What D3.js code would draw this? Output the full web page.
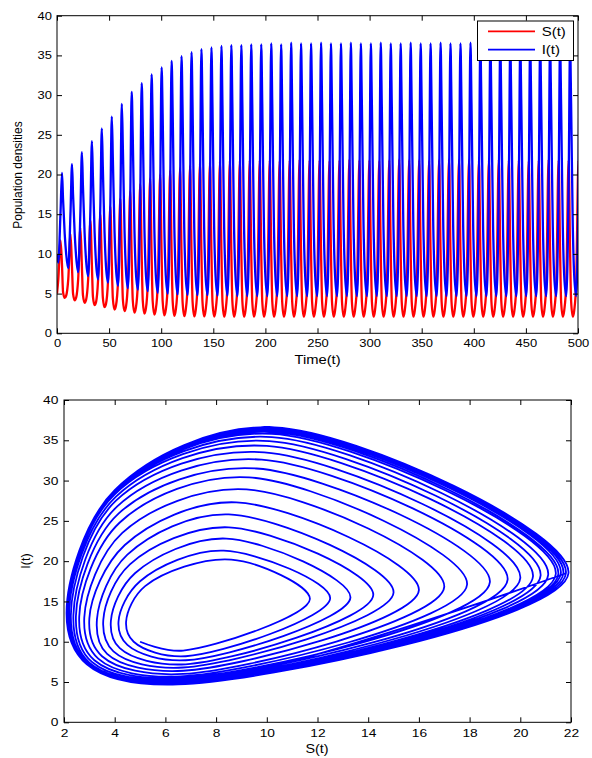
<!DOCTYPE html>
<html lang="en">
<head>
<meta charset="utf-8">
<title>S(t), I(t) and phase portrait</title>
<script src="https://cdn.jsdelivr.net/npm/d3@7"></script>
<style>
body{margin:0;background:#fff;font-family:"Liberation Sans",Arial,Helvetica,sans-serif;}
</style>
</head>
<body>
<div id="chart"></div>
<script>
// values, one entry per oscillation (cycle k)
// time of each I(t) peak
var tPeak = [4.8, 14.4, 23.9, 33.5, 43.0, 52.6, 62.2, 71.7, 81.3, 90.8,
  100.4, 110.0, 119.5, 129.1, 138.6, 148.2, 157.8, 167.3, 176.9, 186.4,
  196.0, 205.6, 215.1, 224.7, 234.2, 243.8, 253.4, 262.9, 272.5, 282.0,
  291.6, 301.2, 310.7, 320.3, 329.8, 339.4, 349.0, 358.5, 368.1, 377.6,
  387.2, 396.8, 406.3, 415.9, 425.4, 435.0, 444.6, 454.1, 463.7, 473.2,
  482.8, 492.4, 501.9]
// lag of I min, S max, I max, upper-left, S min, lower-left, relative to the I peak
var lag = [-3.6, -1.4, 0, 1.0, 2.6, 4.0]

// I min (before the peak of cycle k) and S at that moment
var iLow = [8.9, 8.2, 7.7, 7.2, 6.8, 6.4, 6.0, 5.7, 5.5, 5.3,
  5.1, 5.0, 4.9, 4.85, 4.8, 4.8, 4.75, 4.75, 4.7, 4.7,
  4.7, 4.7, 4.7, 4.7, 4.7, 4.7, 4.7, 4.7, 4.7, 4.7,
  4.7, 4.7, 4.7, 4.7, 4.7, 4.7, 4.7, 4.7, 4.7, 4.7,
  4.7, 4.7, 4.7, 4.7, 4.7, 4.7, 4.7, 4.7, 4.7, 4.7,
  4.7, 4.7, 4.7]
var sAtILow = [6.7, 6.8, 6.8, 6.8, 6.7, 6.7, 6.7, 6.6, 6.6, 6.6,
  6.5, 6.5, 6.5, 6.5, 6.5, 6.5, 6.5, 6.5, 6.5, 6.5,
  6.5, 6.5, 6.5, 6.5, 6.5, 6.5, 6.5, 6.5, 6.5, 6.5,
  6.5, 6.5, 6.5, 6.5, 6.5, 6.5, 6.5, 6.5, 6.5, 6.5,
  6.5, 6.5, 6.5, 6.5, 6.5, 6.5, 6.5, 6.5, 6.5, 6.5,
  6.5, 6.5, 6.5]

// S max (before the peak of cycle k) and I at that moment
var sPeak = [11.7, 12.5, 13.3, 14.2, 15.0, 16.0, 17.0, 17.9, 18.8, 19.5,
  20.0, 20.5, 20.8, 21.1, 21.4, 21.5, 21.6, 21.7, 21.7, 21.8,
  21.8, 21.8, 21.7, 21.8, 21.9, 21.8, 21.8, 21.7, 21.8, 21.9,
  21.8, 21.8, 21.7, 21.8, 21.9, 21.8, 21.8, 21.7, 21.8, 21.9,
  21.8, 21.8, 21.7, 21.8, 21.9, 21.8, 21.8, 21.7, 21.8, 21.9,
  21.8, 21.8, 21.8]
var iAtSPeak = [15.3, 15.4, 15.5, 15.8, 16.1, 16.4, 16.8, 17.1, 17.4, 17.7,
  17.9, 18.1, 18.2, 18.3, 18.4, 18.4, 18.5, 18.5, 18.5, 18.5,
  18.5, 18.5, 18.5, 18.5, 18.5, 18.5, 18.5, 18.5, 18.5, 18.5,
  18.5, 18.5, 18.5, 18.5, 18.5, 18.5, 18.5, 18.5, 18.5, 18.5,
  18.5, 18.5, 18.5, 18.5, 18.5, 18.5, 18.5, 18.5, 18.5, 18.5,
  18.5, 18.5, 18.5]

// I max and S at that moment
var iPeak = [20.2, 21.3, 22.8, 24.2, 25.8, 27.3, 28.9, 30.4, 31.5, 32.6,
  33.5, 34.3, 34.9, 35.4, 35.8, 36.0, 36.2, 36.3, 36.3, 36.4,
  36.4, 36.5, 36.4, 36.6, 36.5, 36.5, 36.6, 36.5, 36.5, 36.6,
  36.5, 36.5, 36.6, 36.5, 36.5, 36.6, 36.5, 36.5, 36.6, 36.5,
  36.5, 36.6, 36.5, 36.5, 36.6, 36.5, 36.5, 36.6, 36.5, 36.5,
  36.6, 36.5, 36.5]
var sAtIPeak = [8.6, 8.3, 8.4, 8.5, 8.5, 8.8, 9.2, 9.3, 9.6, 9.8,
  9.9, 10.0, 10.1, 10.2, 10.2, 10.3, 10.3, 10.3, 10.3, 10.3,
  10.3, 10.3, 10.3, 10.3, 10.3, 10.3, 10.3, 10.3, 10.3, 10.3,
  10.3, 10.3, 10.3, 10.3, 10.3, 10.3, 10.3, 10.3, 10.3, 10.3,
  10.3, 10.3, 10.3, 10.3, 10.3, 10.3, 10.3, 10.3, 10.3, 10.3,
  10.3, 10.3, 10.3]

// upper-left shoulder of each loop (I falling, S falling)
var sUL = [5.2, 5.0, 4.8, 4.6, 4.5, 4.4, 4.3, 4.2, 4.15, 4.1,
  4.05, 4.05, 4.0, 4.0, 4.0, 4.0, 4.0, 4.0, 4.0, 4.0,
  4.0, 4.0, 4.0, 4.0, 4.0, 4.0, 4.0, 4.0, 4.0, 4.0,
  4.0, 4.0, 4.0, 4.0, 4.0, 4.0, 4.0, 4.0, 4.0, 4.0,
  4.0, 4.0, 4.0, 4.0, 4.0, 4.0, 4.0, 4.0, 4.0, 4.0,
  4.0, 4.0, 4.0]
var iUL = [16.9, 17.5, 18.5, 19.6, 20.8, 22.0, 23.5, 24.8, 25.9, 26.8,
  27.5, 28.0, 28.3, 28.5, 28.6, 28.7, 28.7, 28.8, 28.8, 28.8,
  28.8, 28.8, 28.8, 28.8, 28.8, 28.8, 28.8, 28.8, 28.8, 28.8,
  28.8, 28.8, 28.8, 28.8, 28.8, 28.8, 28.8, 28.8, 28.8, 28.8,
  28.8, 28.8, 28.8, 28.8, 28.8, 28.8, 28.8, 28.8, 28.8, 28.8,
  28.8, 28.8, 28.8]

// S min and I at that moment
var sLow = [4.45, 4.15, 3.85, 3.55, 3.3, 3.0, 2.8, 2.6, 2.47, 2.37,
  2.27, 2.2, 2.16, 2.13, 2.12, 2.11, 2.1, 2.1, 2.1, 2.1,
  2.1, 2.1, 2.1, 2.1, 2.1, 2.1, 2.1, 2.1, 2.1, 2.1,
  2.1, 2.1, 2.1, 2.1, 2.1, 2.1, 2.1, 2.1, 2.1, 2.1,
  2.1, 2.1, 2.1, 2.1, 2.1, 2.1, 2.1, 2.1, 2.1, 2.1,
  2.1, 2.1, 2.1]
var iAtSLow = [12.5, 12.5, 12.6, 12.7, 12.8, 12.9, 13.0, 13.1, 13.2, 13.3,
  13.3, 13.4, 13.4, 13.5, 13.5, 13.5, 13.5, 13.5, 13.5, 13.5,
  13.5, 13.5, 13.5, 13.5, 13.5, 13.5, 13.5, 13.5, 13.5, 13.5,
  13.5, 13.5, 13.5, 13.5, 13.5, 13.5, 13.5, 13.5, 13.5, 13.5,
  13.5, 13.5, 13.5, 13.5, 13.5, 13.5, 13.5, 13.5, 13.5, 13.5,
  13.5, 13.5, 13.5]

// lower-left corner of each loop (I falling, S rising again)
var sLL = [4.75, 4.5, 4.2, 3.95, 3.7, 3.5, 3.35, 3.2, 3.1, 3.0,
  2.95, 2.95, 2.9, 2.9, 2.9, 2.9, 2.9, 2.9, 2.9, 2.9,
  2.9, 2.9, 2.9, 2.9, 2.9, 2.9, 2.9, 2.9, 2.9, 2.9,
  2.9, 2.9, 2.9, 2.9, 2.9, 2.9, 2.9, 2.9, 2.9, 2.9,
  2.9, 2.9, 2.9, 2.9, 2.9, 2.9, 2.9, 2.9, 2.9, 2.9,
  2.9, 2.9, 2.9]
var iLL = [10.0, 9.6, 9.2, 8.8, 8.5, 8.2, 7.9, 7.7, 7.5, 7.4,
  7.3, 7.3, 7.2, 7.2, 7.2, 7.2, 7.2, 7.2, 7.2, 7.2,
  7.2, 7.2, 7.2, 7.2, 7.2, 7.2, 7.2, 7.2, 7.2, 7.2,
  7.2, 7.2, 7.2, 7.2, 7.2, 7.2, 7.2, 7.2, 7.2, 7.2,
  7.2, 7.2, 7.2, 7.2, 7.2, 7.2, 7.2, 7.2, 7.2, 7.2,
  7.2, 7.2, 7.2]

var start = {t: 0, s: 5, i: 10}

var tTicks = [0, 50, 100, 150, 200, 250, 300, 350, 400, 450, 500]
var popTicks = [0, 5, 10, 15, 20, 25, 30, 35, 40]
var sTicks = [2, 4, 6, 8, 10, 12, 14, 16, 18, 20, 22]
var names = ["S(t)", "I(t)"]
var colors = ["#ff0000", "#0000ff"]

// trajectory points, in time order
var pts = [start]
for (var k = 0; k < tPeak.length; k++) {
    var sv = [sAtILow[k], sPeak[k], sAtIPeak[k], sUL[k], sLow[k], sLL[k]]
    var iv = [iLow[k], iAtSPeak[k], iPeak[k], iUL[k], iAtSLow[k], iLL[k]]
    for (var j = 0; j < lag.length; j++) {
        pts.push({t: tPeak[k] + lag[j], s: sv[j], i: iv[j]})
    }
}

var W = 592, H = 758
var svg = d3.select("#chart").append("svg").attr("width", W).attr("height", H)
var stretch = 1.2   // the picture's text is a bit wide

var x1 = d3.scaleLinear().domain([0, 500]).range([57, 578])
var y1 = d3.scaleLinear().domain([0, 40]).range([333.3, 15.7])
var x2 = d3.scaleLinear().domain([2, 22]).range([64, 571])
var y2 = d3.scaleLinear().domain([0, 40]).range([722.3, 400])

function frame(x, y, xt, yt, fs, padB, padL, id) {
    var xa = x.range(), ya = y.range()
    function style(g) {
        g.attr("font-family", null).attr("font-size", fs)
        g.select(".domain").remove()
        g.selectAll("line").attr("stroke", "#000")
        g.selectAll("text").attr("fill", "#000").attr("transform", "scale(" + stretch + ",1)")
    }
    svg.append("g").attr("transform", "translate(0," + ya[0] + ")")
        .call(d3.axisBottom(x).tickValues(xt).tickSizeInner(-5).tickSizeOuter(0).tickPadding(padB))
        .call(style)
    svg.append("g").attr("transform", "translate(0," + ya[1] + ")")
        .call(d3.axisTop(x).tickValues(xt).tickSizeInner(-5).tickSizeOuter(0).tickFormat(""))
        .call(style)
    svg.append("g").attr("transform", "translate(" + xa[0] + ",0)")
        .call(d3.axisLeft(y).tickValues(yt).tickSizeInner(-5).tickSizeOuter(0).tickPadding(padL))
        .call(style)
    svg.append("g").attr("transform", "translate(" + xa[1] + ",0)")
        .call(d3.axisRight(y).tickValues(yt).tickSizeInner(-5).tickSizeOuter(0).tickFormat(""))
        .call(style)
    svg.append("rect")
        .attr("x", xa[0]).attr("y", ya[1])
        .attr("width", xa[1] - xa[0]).attr("height", ya[0] - ya[1])
        .attr("fill", "none").attr("stroke", "#000").attr("stroke-width", 1)
    svg.append("clipPath").attr("id", id).append("rect")
        .attr("x", xa[0]).attr("y", ya[1])
        .attr("width", xa[1] - xa[0]).attr("height", ya[0] - ya[1])
}

// ---- top: time series
var sLine = d3.line().x(function(d){ return x1(d.t) }).y(function(d){ return y1(d.s) }).curve(d3.curveMonotoneX)
var iLine = d3.line().x(function(d){ return x1(d.t) }).y(function(d){ return y1(d.i) }).curve(d3.curveMonotoneX)

var topPlot = svg.append("g").attr("clip-path", "url(#clipTop)")
topPlot.append("path").attr("d", sLine(pts)).attr("fill", "none")
    .attr("stroke", colors[0]).attr("stroke-width", 2.3).attr("stroke-linejoin", "round")
topPlot.append("path").attr("d", iLine(pts)).attr("fill", "none")
    .attr("stroke", colors[1]).attr("stroke-width", 2.3).attr("stroke-linejoin", "round")

frame(x1, y1, tTicks, popTicks, 10.8, 6.4, 4.2, "clipTop")

svg.append("text").attr("transform", "translate(317.5,364) scale(" + stretch + ",1)")
    .attr("text-anchor", "middle").attr("font-size", 12.3).text("Time(t)")
svg.append("text").attr("transform", "translate(21.5,175) rotate(-90)")
    .attr("text-anchor", "middle").attr("font-size", 12).text("Population densities")

// legend
var leg = svg.append("g")
leg.append("rect").attr("x", 477.5).attr("y", 21).attr("width", 96).attr("height", 39.5)
    .attr("fill", "#fff").attr("stroke", "#000").attr("stroke-width", 1)
names.forEach(function(n, j) {
    var ly = 31.3 + j * 18.4
    leg.append("line").attr("x1", 488).attr("x2", 535).attr("y1", ly).attr("y2", ly)
        .attr("stroke", colors[j]).attr("stroke-width", 1.8)
    leg.append("text").attr("transform", "translate(541.7," + (ly + 4.5) + ") scale(" + stretch + ",1)")
        .attr("font-size", 12.5).text(n)
})

// ---- bottom: phase portrait I vs S
var phase = d3.line().x(function(d){ return x2(d.s) }).y(function(d){ return y2(d.i) }).curve(d3.curveCatmullRom.alpha(0.5))
svg.append("g").attr("clip-path", "url(#clipBot)")
    .append("path").attr("d", phase(pts.filter(function(d){ return d.t <= 501 })))
    .attr("fill", "none").attr("stroke", colors[1]).attr("stroke-width", 1.8).attr("stroke-linejoin", "round")

frame(x2, y2, sTicks, popTicks, 11.5, 7, 4.7, "clipBot")

svg.append("text").attr("transform", "translate(317,752.5) scale(" + stretch + ",1)")
    .attr("text-anchor", "middle").attr("font-size", 12).text("S(t)")
svg.append("text").attr("transform", "translate(29.5,561) rotate(-90)")
    .attr("text-anchor", "middle").attr("font-size", 12.5).text("I(t)")
</script>
</body>
</html>
